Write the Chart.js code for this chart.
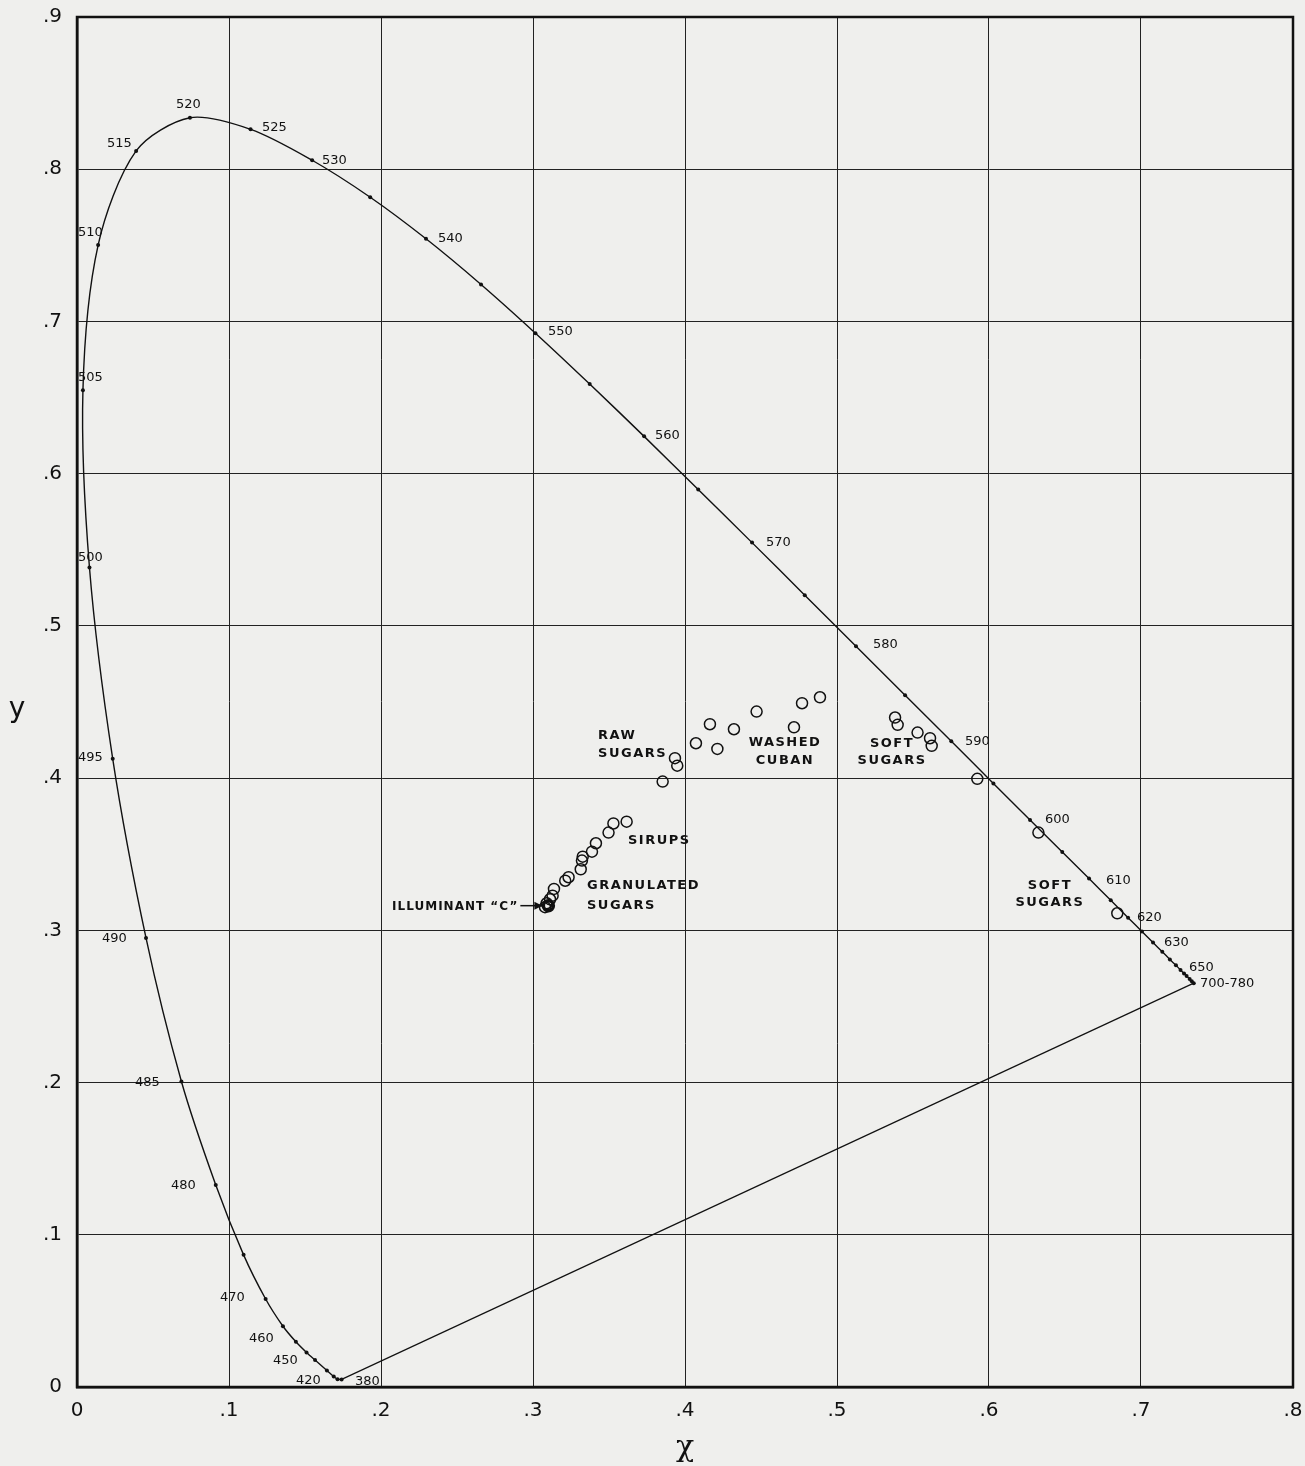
<!DOCTYPE html>
<html>
<head>
<meta charset="utf-8">
<script src="https://cdn.jsdelivr.net/npm/chart.js@4.4.0/dist/chart.umd.min.js"></script>
<style>
  html, body { margin: 0; padding: 0; background: #efefed; }
  #wrap { width: 1305px; height: 1466px; }
</style>
</head>
<body>
<div id="wrap"><canvas id="chart" width="1305" height="1466"></canvas></div>
<script>
// spectrum locus (CIE 1931), wavelength nm -> x, y
const locusNm = [380, 420, 430, 440, 450, 455, 460, 465, 470, 475, 480, 485, 490, 495, 500, 505, 510, 515, 520, 525, 530, 535, 540, 545, 550, 555, 560, 565, 570, 575, 580, 585, 590, 595, 600, 605, 610, 615, 620, 625, 630, 635, 640, 645, 650, 655, 660, 670, 680, 700];
const locusX = [0.1741, 0.1714, 0.1689, 0.1644, 0.1566, 0.1510, 0.1440, 0.1355, 0.1241, 0.1096, 0.0913, 0.0687, 0.0454, 0.0235, 0.0082, 0.0039, 0.0139, 0.0389, 0.0743, 0.1142, 0.1547, 0.1929, 0.2296, 0.2658, 0.3016, 0.3373, 0.3731, 0.4087, 0.4441, 0.4788, 0.5125, 0.5448, 0.5752, 0.6029, 0.6270, 0.6482, 0.6658, 0.6801, 0.6915, 0.7006, 0.7079, 0.7140, 0.7190, 0.7230, 0.7260, 0.7283, 0.7300, 0.7320, 0.7334, 0.7347];
const locusY = [0.0050, 0.0051, 0.0069, 0.0109, 0.0177, 0.0227, 0.0297, 0.0399, 0.0578, 0.0868, 0.1327, 0.2007, 0.2950, 0.4127, 0.5384, 0.6548, 0.7502, 0.8120, 0.8338, 0.8262, 0.8059, 0.7816, 0.7543, 0.7243, 0.6923, 0.6589, 0.6245, 0.5896, 0.5547, 0.5202, 0.4866, 0.4544, 0.4242, 0.3965, 0.3725, 0.3514, 0.3340, 0.3197, 0.3083, 0.2993, 0.2920, 0.2859, 0.2809, 0.2770, 0.2740, 0.2717, 0.2700, 0.2680, 0.2666, 0.2653];

// sugar samples (open circles)
const sugarX = [0.3616, 0.3529, 0.3497, 0.3414, 0.3388, 0.3327, 0.3322, 0.3314, 0.3234, 0.3212, 0.3138, 0.3129, 0.3112, 0.3090, 0.3079,
  0.4888, 0.4770, 0.4471, 0.4164, 0.4322, 0.4717, 0.4072, 0.4213, 0.3934, 0.3949, 0.3853,
  0.5382, 0.5399, 0.5530, 0.5612, 0.5623, 0.5923, 0.6325, 0.6844];
const sugarY = [0.3714, 0.3702, 0.3642, 0.3572, 0.3517, 0.3484, 0.3458, 0.3401, 0.3349, 0.3326, 0.3272, 0.3228, 0.3204, 0.3178, 0.3152,
  0.4531, 0.4492, 0.4437, 0.4354, 0.4321, 0.4334, 0.4229, 0.4192, 0.4131, 0.4082, 0.3977,
  0.4398, 0.4350, 0.4299, 0.4262, 0.4212, 0.3995, 0.3642, 0.3112];

const illumX = [0.3101];
const illumY = [0.3162];

// wavelength labels: text, x, y (left edge, middle)
const nmLabels = ["520", "525", "530", "540", "550", "560", "570", "580", "590", "600", "610", "620", "630", "650", "700-780",
  "515", "510", "505", "500", "495", "490", "485", "480", "470", "460", "450", "420", "380"];
const nmLabelX = [0.0651, 0.1217, 0.1612, 0.2375, 0.3099, 0.3803, 0.4533, 0.5237, 0.5842, 0.6368, 0.6770, 0.6974, 0.7151, 0.7316, 0.7388,
  0.0197, 0.0007, 0.0007, 0.0007, 0.0007, 0.0164, 0.0382, 0.0618, 0.0941, 0.1132, 0.1289, 0.1441, 0.1829];
const nmLabelY = [0.8423, 0.8272, 0.8055, 0.7543, 0.6932, 0.6248, 0.5545, 0.4875, 0.4238, 0.3725, 0.3325, 0.3081, 0.2917, 0.2753, 0.2648,
  0.8167, 0.7582, 0.6629, 0.5447, 0.4133, 0.2943, 0.1997, 0.1321, 0.0585, 0.0315, 0.0171, 0.0039, 0.0033];

// group labels
const groupText = ["RAW", "SUGARS", "WASHED", "CUBAN", "SOFT", "SUGARS", "SIRUPS", "GRANULATED", "SUGARS", "SOFT", "SUGARS"];
const groupX = [0.3428, 0.3428, 0.4658, 0.4658, 0.5362, 0.5362, 0.3625, 0.3355, 0.3355, 0.6401, 0.6401];
const groupY = [0.4277, 0.4159, 0.4231, 0.4113, 0.4225, 0.4113, 0.3587, 0.3292, 0.3160, 0.3292, 0.3180];
const groupAlign = ["left", "left", "center", "center", "center", "center", "left", "left", "left", "center", "center"];

const xTicks = [0, 0.1, 0.2, 0.3, 0.4, 0.5, 0.6, 0.7, 0.8];
const yTicks = [0, 0.1, 0.2, 0.3, 0.4, 0.5, 0.6, 0.7, 0.8, 0.9];

const tickText = (v) => (Math.abs(v) < 1e-9 ? "0" : "." + Math.round(v * 10));

const annotations = {
  id: "annotations",
  afterDatasetsDraw(chart) {
    const { ctx, scales } = chart;
    const sx = scales.x, sy = scales.y;
    ctx.save();
    ctx.fillStyle = "#111";
    ctx.textBaseline = "middle";

    ctx.font = "13px 'DejaVu Sans', sans-serif";
    ctx.textAlign = "left";
    nmLabels.forEach((t, i) => {
      ctx.fillText(t, sx.getPixelForValue(nmLabelX[i]), sy.getPixelForValue(nmLabelY[i]));
    });

    ctx.font = "bold 13px 'DejaVu Sans', sans-serif";
    ctx.letterSpacing = "1.5px";
    groupText.forEach((t, i) => {
      ctx.textAlign = groupAlign[i];
      ctx.fillText(t, sx.getPixelForValue(groupX[i]), sy.getPixelForValue(groupY[i]));
    });

    // illuminant label and arrow
    const ix = sx.getPixelForValue(illumX[0]);
    const iy = sy.getPixelForValue(illumY[0]);
    ctx.textAlign = "right";
    ctx.font = "bold 12px 'DejaVu Sans', sans-serif";
    ctx.letterSpacing = "1px";
    ctx.fillText("ILLUMINANT \u201CC\u201D", ix - 30, iy + 1);
    ctx.letterSpacing = "0px";
    ctx.strokeStyle = "#111";
    ctx.lineWidth = 1.5;
    ctx.beginPath();
    ctx.moveTo(ix - 28, iy);
    ctx.lineTo(ix - 7, iy);
    ctx.stroke();
    ctx.beginPath();
    ctx.moveTo(ix - 6, iy);
    ctx.lineTo(ix - 14, iy - 4);
    ctx.lineTo(ix - 14, iy + 4);
    ctx.closePath();
    ctx.fill();

    // axis titles
    ctx.font = "28px 'DejaVu Sans', sans-serif";
    ctx.textAlign = "center";
    ctx.fillText("y", 17, sy.getPixelForValue(0.445));
    ctx.font = "30px 'DejaVu Serif', serif";
    ctx.fillText("\u03C7", sx.getPixelForValue(0.4), 1448);

    // heavier frame
    const a = chart.chartArea;
    ctx.lineWidth = 2.5;
    ctx.strokeRect(a.left, a.top, a.right - a.left, a.bottom - a.top);
    ctx.restore();
  },
};

const paper = {
  id: "paper",
  beforeDraw(chart) {
    const { ctx } = chart;
    ctx.save();
    ctx.fillStyle = "#efefed";
    ctx.fillRect(0, 0, chart.width, chart.height);
    ctx.restore();
  },
};

const locusPts = locusX.map((x, i) => ({ x, y: locusY[i] }));
const purple = [locusPts[locusPts.length - 1], locusPts[0]];

new Chart(document.getElementById("chart"), {
  type: "scatter",
  data: {
    datasets: [
      {
        label: "spectrum locus",
        data: locusPts,
        showLine: true,
        tension: 0.3,
        borderColor: "#111",
        borderWidth: 1.4,
        pointRadius: 2,
        pointBackgroundColor: "#111",
        pointBorderWidth: 0,
      },
      {
        label: "purple line",
        data: purple,
        showLine: true,
        borderColor: "#111",
        borderWidth: 1.2,
        pointRadius: 0,
      },
      {
        label: "sugars",
        data: sugarX.map((x, i) => ({ x, y: sugarY[i] })),
        pointRadius: 5.5,
        pointBorderWidth: 1.5,
        pointBorderColor: "#111",
        pointBackgroundColor: "rgba(0,0,0,0)",
      },
      {
        label: "illuminant C",
        data: illumX.map((x, i) => ({ x, y: illumY[i] })),
        pointRadius: 5,
        pointBorderWidth: 3.5,
        pointBorderColor: "#111",
        pointBackgroundColor: "rgba(0,0,0,0)",
      },
    ],
  },
  options: {
    responsive: false,
    animation: false,
    layout: { padding: { top: 17, right: 12, left: 0, bottom: 0 } },
    plugins: { legend: { display: false }, tooltip: { enabled: false } },
    scales: {
      x: {
        type: "linear",
        min: 0,
        max: 0.8,
        afterBuildTicks: (s) => { s.ticks = xTicks.map((v) => ({ value: v })); },
        afterFit: (s) => { s.height = 79; s.paddingLeft = 0; s.paddingRight = 0; },
        grid: { color: "#222", lineWidth: 1, drawTicks: false },
        border: { color: "#111", width: 2.5 },
        ticks: {
          color: "#111",
          font: { size: 20, family: "'DejaVu Sans', sans-serif" },
          padding: 12,
          callback: tickText,
        },
      },
      y: {
        type: "linear",
        min: 0,
        max: 0.9,
        afterBuildTicks: (s) => { s.ticks = yTicks.map((v) => ({ value: v })); },
        afterFit: (s) => { s.width = 77; s.paddingTop = 0; s.paddingBottom = 0; },
        grid: { color: "#222", lineWidth: 1, drawTicks: false },
        border: { color: "#111", width: 2.5 },
        ticks: {
          color: "#111",
          font: { size: 20, family: "'DejaVu Sans', sans-serif" },
          padding: 15,
          callback: tickText,
        },
      },
    },
  },
  plugins: [paper, annotations],
});
</script>
</body>
</html>
